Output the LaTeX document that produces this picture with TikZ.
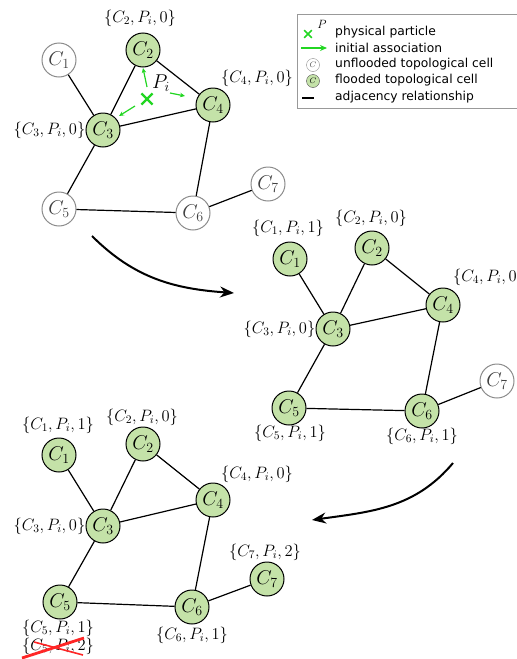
\RequirePackage{fix-cm}
\documentclass[tikz,border=0pt]{standalone}
\usepackage{fontspec}
\newfontfamily\legendfont{DejaVu Sans}
\usepackage{tikz}
\usetikzlibrary{arrows.meta,shapes.misc,calc}
\definecolor{floodgreen}{RGB}{196,226,168}
\definecolor{partgreen}{RGB}{34,214,34}

\begin{document}
\begin{tikzpicture}[x=1pt, y=-1pt,
  cell/.style={circle, draw, line width=1pt, minimum size=34pt, inner sep=0pt,
    font=\fontsize{20}{24}\selectfont},
  wet/.style={cell, fill=floodgreen},
  dry/.style={cell, draw=black!45, fill=white, text=black!75},
  tag/.style={font=\fontsize{16.5}{18}\selectfont, inner sep=0pt},
  adj/.style={line width=1.2pt},
  arr/.style={-{Stealth[length=14pt,width=11pt]}, line width=2pt},
  assoc/.style={-{Stealth[length=5pt,width=4.5pt]}, partgreen, line width=1.2pt},
  leg/.style={font=\legendfont\fontsize{12.3}{14}\selectfont, anchor=west, inner sep=0pt}
]
\useasboundingbox (0,0) rectangle (517,659);

% first state: particle P_i lands between C2, C3, C4
\node[dry] (a1) at (59,60) {$C_1$};
\node[wet] (a2) at (143,50) {$C_2$};
\node[wet] (a3) at (103,130) {$C_3$};
\node[wet] (a4) at (213,105) {$C_4$};
\node[dry] (a5) at (59,209) {$C_5$};
\node[dry] (a6) at (193,213) {$C_6$};
\node[dry] (a7) at (268,184) {$C_7$};
\draw[adj] (a1) -- (a3) (a2) -- (a3) (a2) -- (a4) (a3) -- (a4)
  (a3) -- (a5) (a4) -- (a6) (a5) -- (a6) (a6) -- (a7);
\node[tag] (la2) at (140,18) {$\{C_2,P_i,0\}$};
\node[tag] (la4) at (257,78) {$\{C_4,P_i,0\}$};
\node[tag, anchor=east] (la3) at (a3.west) {$\{C_3,P_i,0\}$};

\node[cross out, draw=partgreen, line width=2.2pt, minimum size=9pt, inner sep=0pt] (px) at (147,99) {};
\node[font=\fontsize{20}{24}\selectfont, inner sep=0pt] (pname) at (161,83) {$P_i$};
\coordinate (qa) at (147,87); \coordinate (qb) at (143,68);
\coordinate (qc) at (170,93); \coordinate (qd) at (185,96);
\coordinate (qe) at (135,106); \coordinate (qf) at (119,116);
\draw[assoc] (qa) -- (qb);
\draw[assoc] (qc) -- (qd);
\draw[assoc] (qe) -- (qf);

% legend
\node[draw=black!40, line width=0.8pt, minimum width=233pt, minimum height=94pt,
  anchor=north west, inner sep=0pt] (legbox) at (297,14) {};
\node[cross out, draw=partgreen, line width=1.6pt, minimum size=6pt, inner sep=0pt] (lgx) at (308,34) {};
\node[font=\fontsize{12}{14}\selectfont, inner sep=0pt] (lgp) at (322,24) {$P$};
\coordinate (lga) at (301,48); \coordinate (lgb) at (327,48);
\draw[assoc, -{Stealth[length=7pt,width=6pt]}] (lga) -- (lgb);
\node[circle, draw=black!45, minimum size=13pt, inner sep=0pt,
  font=\fontsize{8}{8}\selectfont, text=black!70] (lgc) at (313,65) {$C$};
\node[circle, draw=black!70, fill=floodgreen, minimum size=13pt, inner sep=0pt,
  font=\fontsize{8}{8}\selectfont] (lgf) at (313,81) {$C$};
\coordinate (lgl) at (302,98); \coordinate (lgr) at (314,98);
\draw[line width=2.2pt] (lgl) -- (lgr);
\node[leg] (t1) at (335,32) {physical particle};
\node[leg] (t2) at (335,48) {initial association};
\node[leg] (t3) at (335,64) {unflooded topological cell};
\node[leg] (t4) at (335,80) {flooded topological cell};
\node[leg] (t5) at (335,97) {adjacency relationship};

% second state
\node[wet] (b1) at (290,259) {$C_1$};
\node[wet] (b2) at (372,248) {$C_2$};
\node[wet] (b3) at (333,329) {$C_3$};
\node[wet] (b4) at (443,305) {$C_4$};
\node[wet] (b5) at (289,408) {$C_5$};
\node[wet] (b6) at (422,411) {$C_6$};
\node[dry] (b7) at (497,381) {$C_7$};
\draw[adj] (b1) -- (b3) (b2) -- (b3) (b2) -- (b4) (b3) -- (b4)
  (b3) -- (b5) (b4) -- (b6) (b5) -- (b6) (b6) -- (b7);
\node[tag] (lb1) at (288,228) {$\{C_1,P_i,1\}$};
\node[tag] (lb2) at (371,218) {$\{C_2,P_i,0\}$};
\node[tag] (lb4) at (489,277) {$\{C_4,P_i,0\}$};
\node[tag, anchor=east] (lb3) at (b3.west) {$\{C_3,P_i,0\}$};
\node[tag] (lb5) at (290,433) {$\{C_5,P_i,1\}$};
\node[tag] (lb6) at (422,436) {$\{C_6,P_i,1\}$};

% third state
\node[wet] (c1) at (59,455) {$C_1$};
\node[wet] (c2) at (143,444) {$C_2$};
\node[wet] (c3) at (103,526) {$C_3$};
\node[wet] (c4) at (213,500) {$C_4$};
\node[wet] (c5) at (60,602) {$C_5$};
\node[wet] (c6) at (192,607) {$C_6$};
\node[wet] (c7) at (267,579) {$C_7$};
\draw[adj] (c1) -- (c3) (c2) -- (c3) (c2) -- (c4) (c3) -- (c4)
  (c3) -- (c5) (c4) -- (c6) (c5) -- (c6) (c6) -- (c7);
\node[tag] (lc1) at (58,425) {$\{C_1,P_i,1\}$};
\node[tag] (lc2) at (142,417) {$\{C_2,P_i,0\}$};
\node[tag] (lc4) at (257,474) {$\{C_4,P_i,0\}$};
\node[tag, anchor=east] (lc3) at (c3.west) {$\{C_3,P_i,0\}$};
\node[tag] (lc7) at (265,552) {$\{C_7,P_i,2\}$};
\node[tag] (lc5) at (58,628) {$\{C_5,P_i,1\}$};
\node[tag] (lc6) at (192,635) {$\{C_6,P_i,1\}$};
\node[tag] (lc5x) at (58,646) {$\{C_5,P_i,2\}$};
\coordinate (ra) at (22,658); \coordinate (rb) at (84,638);
\coordinate (rc) at (34,642); \coordinate (rd) at (83,655);
\draw[red!85, line width=2.8pt] (ra) -- (rb);
\draw[red!85, line width=1.6pt] (rc) -- (rd);

% flooding steps
\coordinate (s1) at (92,236); \coordinate (e1) at (234,293);
\draw[arr] (s1) to[out=-45, in=176] (e1);
\coordinate (s2) at (453,463); \coordinate (e2) at (312,520);
\draw[arr] (s2) to[out=-130, in=8] (e2);
\end{tikzpicture}
\end{document}
